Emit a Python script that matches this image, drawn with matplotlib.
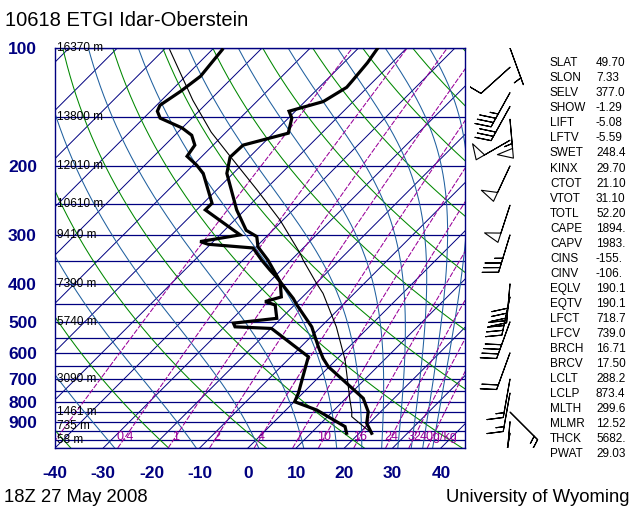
import numpy as np
import matplotlib.pyplot as plt

plt.rcParams['font.family'] = ['Liberation Sans', 'DejaVu Sans']
plt.rcParams['axes.unicode_minus'] = False

# sounding 10618 ETGI Idar-Oberstein, 18Z 27 May 2008
pres_t = [963, 908, 848, 784, 651, 620, 579, 515, 453, 436, 395, 348, 322, 303,
          292, 259, 209, 190, 177, 165, 151, 145, 137, 126, 121, 109, 100]
temp = [22.6, 19.5, 17.4, 13.6, -0.2, -3.0, -6.4, -11.9, -19.5, -21.6, -27.8, -34.8,
        -39.6, -42.0, -45.5, -51.7, -61.3, -64.0, -63.8, -56.9, -59.3, -61.3, -56.2,
        -54.3, -54.5, -55.1, -56.0]

pres_d = [963, 926, 840, 800, 761, 614, 520, 515, 504, 490, 453, 444, 432, 395, 380,
          369, 348, 324, 317, 312, 300, 259, 249, 209, 199, 189, 177, 167, 160, 151,
          145, 140, 129, 118, 101]
dwpt = [17.4, 15.7, 6.4, 0.1, -0.9, -6.4, -19.9, -27.8, -28.9, -20.9, -24.0, -26.8,
        -24.4, -27.8, -30.3, -32.3, -36.1, -40.4, -50.5, -52.7, -45.8, -58.2, -58.2,
        -66.2, -69.3, -73.1, -73.8, -76.5, -80.0, -86.6, -88.6, -89.3, -87.9, -86.9,
        -87.9]

pres_parcel = [963, 873, 848, 792, 626, 515, 423, 399, 348, 334, 275, 230, 188, 164,
               136, 101]
t_parcel = [22.6, 15.0, 14.0, 11.2, 1.9, -6.8, -16.5, -19.9, -27.5, -29.6, -40.6,
            -51.7, -64.5, -73.1, -83.5, -98.8]

# geopotential heights of the mandatory levels
hgt_p = [100, 150, 200, 250, 300, 400, 500, 700, 850, 925, 1000]
hgt_m = [16370, 13800, 12010, 10610, 9410, 7390, 5740, 3090, 1461, 735, 58]

# winds (direction deg, speed knots)
wind_p = [100, 112, 130, 141, 152, 172, 200, 252, 300, 400, 432, 500, 600, 700,
          760, 850, 900, 963]
wind_dir = [160, 228, 209, 209, 175, 240, 205, 198, 197, 185, 192, 200, 200, 190,
            190, 135, 185, 190]
wind_kt = [5, 10, 35, 30, 55, 50, 50, 50, 35, 40, 40, 40, 20, 15, 15, 15, 10, 5]

mixr = [0.1, 0.4, 1, 2, 4, 7, 10, 16, 24, 32, 40]
mixr_text = ['', '0.4', '1', '2', '4', '7', '10', '16', '24', '32', '40g/kg']

index_names = ['SLAT', 'SLON', 'SELV', 'SHOW', 'LIFT', 'LFTV', 'SWET', 'KINX', 'CTOT',
               'VTOT', 'TOTL', 'CAPE', 'CAPV', 'CINS', 'CINV', 'EQLV', 'EQTV', 'LFCT',
               'LFCV', 'BRCH', 'BRCV', 'LCLT', 'LCLP', 'MLTH', 'MLMR', 'THCK', 'PWAT']
index_vals = ['49.70', '7.33', '377.0', '-1.29', '-5.08', '-5.59', '248.4', '29.70',
              '21.10', '31.10', '52.20', '1894.', '1983.', '-155.', '-106.', '190.1',
              '190.1', '718.7', '739.0', '16.71', '17.50', '288.2', '873.4', '299.6',
              '12.52', '5682.', '29.03']

NAVY = '#000080'
GREEN = '#008800'
MOIST = '#20609f'
PURPLE = '#990099'

P_BOT, P_TOP = 1050.0, 100.0
T_LEFT, T_RIGHT = -40.0, 45.0
W, H = 640, 512
ax_px = (55, 448, 410, 400)   # left, bottom(from top), width, height in pixels
# degC per unit of ln(p) so that the isotherms run at 45 degrees
SKEW = (ax_px[3] / np.log(P_BOT / P_TOP)) / (ax_px[2] / (T_RIGHT - T_LEFT))


def skew_x(t, p):
    return np.asarray(t, float) + SKEW * np.log(P_BOT / np.asarray(p, float))


def es(tc):
    return 6.112 * np.exp(17.67 * tc / (tc + 243.5))


def theta_e_sat(tc, p):
    tk = tc + 273.15
    e = es(tc)
    r = 622.0 * e / np.maximum(p - e, 1e-3)
    return (tk * (1000.0 / p) ** (0.2854 * (1 - 0.00028 * r))
            * np.exp((3.376 / tk - 0.00254) * r * (1 + 0.00081 * r)))


def moist_adiabat(the_k, p):
    lo = np.full_like(p, -160.0)
    hi = np.full_like(p, 40.0)
    with np.errstate(over='ignore', invalid='ignore'):
        for _ in range(50):
            mid = 0.5 * (lo + hi)
            warm = theta_e_sat(mid, p) > the_k
            hi = np.where(warm, mid, hi)
            lo = np.where(warm, lo, mid)
    return 0.5 * (lo + hi)


def mixr_temp(r, p):
    e = p * r / (622.0 + r)
    a = np.log(e / 6.112)
    return 243.5 * a / (17.67 - a)


fig = plt.figure(figsize=(W / 100, H / 100), dpi=100)
ax = fig.add_axes([ax_px[0] / W, (H - ax_px[1]) / H, ax_px[2] / W, ax_px[3] / H])
ax.set_yscale('log')
ax.set_ylim(P_BOT, P_TOP)
ax.set_xlim(T_LEFT, T_RIGHT)

pp = np.geomspace(P_BOT, P_TOP, 200)

# isobars
for p in range(100, 1051, 50):
    ax.axhline(p, color=NAVY, lw=0.9, zorder=1)

# isotherms
for t in range(-160, 50, 10):
    ax.plot(skew_x([t, t], [P_BOT, P_TOP]), [P_BOT, P_TOP], color=NAVY, lw=0.7, zorder=1)

# dry adiabats
for th in range(-40, 200, 20):
    tt = (th + 273.15) * (pp / 1000.0) ** 0.2857 - 273.15
    ax.plot(skew_x(tt, pp), pp, color=GREEN, lw=0.75, zorder=1)

# moist adiabats
for the in range(-30, 180, 20):
    tt = moist_adiabat(the + 273.15, pp)
    ax.plot(skew_x(tt, pp), pp, color=MOIST, lw=0.75, zorder=1)

# mixing ratio lines
for r, lab in zip(mixr, mixr_text):
    tt = mixr_temp(r, pp)
    ax.plot(skew_x(tt, pp), pp, color=PURPLE, lw=0.75, ls=(0, (5, 1.5)), zorder=1)
    if lab:
        p_lab = 985.0
        x_lab = skew_x(mixr_temp(r, p_lab), p_lab)
        ha = 'center'
        if lab.endswith('g/kg'):
            x_lab -= 2.6
            ha = 'left'
        ax.text(x_lab, p_lab, lab, color=PURPLE, fontsize=9, ha=ha, va='center',
                zorder=3)

# profiles
ax.plot(skew_x(t_parcel, pres_parcel), pres_parcel, color='black', lw=0.8, zorder=4)
ax.plot(skew_x(temp, pres_t), pres_t, color='black', lw=2.3, zorder=5,
        solid_joinstyle='miter')
ax.plot(skew_x(dwpt, pres_d), pres_d, color='black', lw=2.3, zorder=5,
        solid_joinstyle='miter')

# height labels
for p, z in zip(hgt_p, hgt_m):
    ax.text(T_LEFT + 0.4, p, f'{z} m', fontsize=8.5, color='black', ha='left',
            va='center', zorder=6)

ax.set_yticks([100, 200, 300, 400, 500, 600, 700, 800, 900])
ax.set_yticklabels(['100', '200', '300', '400', '500', '600', '700', '800', '900'])
ax.yaxis.set_minor_locator(plt.NullLocator())
ax.set_xticks(range(-40, 41, 10))
ax.tick_params(length=0, colors=NAVY, labelsize=12.5, pad=13)
for lab in ax.get_xticklabels() + ax.get_yticklabels():
    lab.set_fontweight('bold')
for s in ax.spines.values():
    s.set_color(NAVY)
    s.set_linewidth(1.0)

# wind barbs column
bax = fig.add_axes([470 / W, (H - ax_px[1]) / H, 75 / W, ax_px[3] / H])
bax.set_yscale('log')
bax.set_ylim(P_BOT, P_TOP)
bax.set_xlim(0, 75)
bax.axis('off')
wd = np.radians(wind_dir)
u = -np.array(wind_kt) * np.sin(wd)
v = -np.array(wind_kt) * np.cos(wd)
bax.barbs(np.full(len(wind_p), 40.0), wind_p, u, v, length=7.5, lw=0.8,
          barbcolor='black', flagcolor='white', sizes=dict(emptybarb=0.0))

# stability indices
for i, (name, val) in enumerate(zip(index_names, index_vals)):
    y = 1 - (63.3 + 15.03 * i) / H
    fig.text(550 / W, y, name, fontsize=8.5, va='center', ha='left')
    fig.text(596 / W, y, val, fontsize=8.5, va='center', ha='left')

fig.text(5 / W, 1 - 20 / H, '10618 ETGI Idar-Oberstein', fontsize=14.5, va='center')
fig.text(4 / W, 1 - 498 / H, '18Z 27 May 2008', fontsize=13.3, va='center')
fig.text(629 / W, 1 - 498 / H, 'University of Wyoming', fontsize=13.3, va='center',
         ha='right')

fig.savefig('out.png', dpi=100)
